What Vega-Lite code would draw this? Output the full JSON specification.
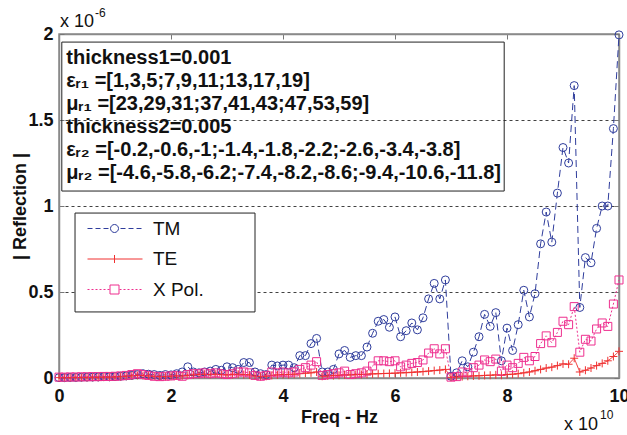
{
  "$schema": "https://vega.github.io/schema/vega-lite/v6.json",
  "width": 560,
  "height": 344,
  "autosize": {"type": "none"},
  "padding": {"left": 59, "top": 34, "right": 8, "bottom": 57},
  "background": "white",
  "config": {
    "view": {"stroke": "#8a8a8a", "strokeWidth": 1.5},
    "font": "Liberation Sans"
  },
  "datasets": {
    "d": [
      {"f":0,"TM":0.002,"TE":0.002,"XPol":0.005},
      {"f":0.1,"TM":0.002,"TE":0.002,"XPol":0.005},
      {"f":0.2,"TM":0.003,"TE":0.002,"XPol":0.006},
      {"f":0.3,"TM":0.003,"TE":0.003,"XPol":0.006},
      {"f":0.4,"TM":0.004,"TE":0.003,"XPol":0.007},
      {"f":0.5,"TM":0.005,"TE":0.003,"XPol":0.007},
      {"f":0.6,"TM":0.005,"TE":0.004,"XPol":0.008},
      {"f":0.7,"TM":0.006,"TE":0.004,"XPol":0.008},
      {"f":0.8,"TM":0.008,"TE":0.005,"XPol":0.009},
      {"f":0.9,"TM":0.007,"TE":0.005,"XPol":0.009},
      {"f":1.0,"TM":0.008,"TE":0.006,"XPol":0.01},
      {"f":1.1,"TM":0.01,"TE":0.008,"XPol":0.012},
      {"f":1.2,"TM":0.012,"TE":0.01,"XPol":0.015},
      {"f":1.3,"TM":0.015,"TE":0.012,"XPol":0.02},
      {"f":1.4,"TM":0.02,"TE":0.015,"XPol":0.025},
      {"f":1.5,"TM":0.025,"TE":0.014,"XPol":0.02},
      {"f":1.6,"TM":0.022,"TE":0.012,"XPol":0.015},
      {"f":1.7,"TM":0.02,"TE":0.01,"XPol":0.01},
      {"f":1.8,"TM":0.015,"TE":0.008,"XPol":0.008},
      {"f":1.9,"TM":0.02,"TE":0.008,"XPol":0.01},
      {"f":2.0,"TM":0.018,"TE":0.01,"XPol":0.012},
      {"f":2.1,"TM":0.025,"TE":0.012,"XPol":0.015},
      {"f":2.2,"TM":0.035,"TE":0.012,"XPol":0.01},
      {"f":2.3,"TM":0.065,"TE":0.015,"XPol":0.02},
      {"f":2.4,"TM":0.035,"TE":0.018,"XPol":0.025},
      {"f":2.5,"TM":0.03,"TE":0.02,"XPol":0.025},
      {"f":2.6,"TM":0.035,"TE":0.022,"XPol":0.03},
      {"f":2.7,"TM":0.04,"TE":0.02,"XPol":0.025},
      {"f":2.8,"TM":0.05,"TE":0.022,"XPol":0.03},
      {"f":2.9,"TM":0.045,"TE":0.02,"XPol":0.025},
      {"f":3.0,"TM":0.065,"TE":0.018,"XPol":0.02},
      {"f":3.1,"TM":0.06,"TE":0.02,"XPol":0.025},
      {"f":3.2,"TM":0.05,"TE":0.022,"XPol":0.035},
      {"f":3.3,"TM":0.09,"TE":0.02,"XPol":0.035},
      {"f":3.4,"TM":0.09,"TE":0.018,"XPol":0.03},
      {"f":3.5,"TM":0.035,"TE":0.012,"XPol":0.015},
      {"f":3.6,"TM":0.025,"TE":0.008,"XPol":0.01},
      {"f":3.7,"TM":0.02,"TE":0.01,"XPol":0.015},
      {"f":3.8,"TM":0.075,"TE":0.015,"XPol":0.035},
      {"f":3.9,"TM":0.07,"TE":0.018,"XPol":0.03},
      {"f":4.0,"TM":0.075,"TE":0.02,"XPol":0.035},
      {"f":4.1,"TM":0.075,"TE":0.02,"XPol":0.03},
      {"f":4.2,"TM":0.06,"TE":0.022,"XPol":0.035},
      {"f":4.3,"TM":0.13,"TE":0.025,"XPol":0.05},
      {"f":4.4,"TM":0.13,"TE":0.028,"XPol":0.06},
      {"f":4.5,"TM":0.2,"TE":0.03,"XPol":0.075},
      {"f":4.6,"TM":0.23,"TE":0.035,"XPol":0.095},
      {"f":4.7,"TM":0.035,"TE":0.01,"XPol":0.015},
      {"f":4.8,"TM":0.035,"TE":0.012,"XPol":0.02},
      {"f":4.9,"TM":0.05,"TE":0.014,"XPol":0.025},
      {"f":5.0,"TM":0.14,"TE":0.016,"XPol":0.03},
      {"f":5.1,"TM":0.16,"TE":0.018,"XPol":0.04},
      {"f":5.2,"TM":0.12,"TE":0.018,"XPol":0.02},
      {"f":5.3,"TM":0.13,"TE":0.02,"XPol":0.025},
      {"f":5.4,"TM":0.13,"TE":0.02,"XPol":0.03},
      {"f":5.5,"TM":0.18,"TE":0.022,"XPol":0.04},
      {"f":5.6,"TM":0.26,"TE":0.024,"XPol":0.07},
      {"f":5.7,"TM":0.33,"TE":0.025,"XPol":0.1},
      {"f":5.8,"TM":0.34,"TE":0.026,"XPol":0.1},
      {"f":5.9,"TM":0.295,"TE":0.027,"XPol":0.095},
      {"f":6.0,"TM":0.355,"TE":0.028,"XPol":0.1},
      {"f":6.1,"TM":0.24,"TE":0.03,"XPol":0.065},
      {"f":6.2,"TM":0.275,"TE":0.031,"XPol":0.075},
      {"f":6.3,"TM":0.32,"TE":0.033,"XPol":0.085},
      {"f":6.4,"TM":0.28,"TE":0.035,"XPol":0.09},
      {"f":6.5,"TM":0.35,"TE":0.037,"XPol":0.105},
      {"f":6.6,"TM":0.46,"TE":0.04,"XPol":0.145},
      {"f":6.7,"TM":0.55,"TE":0.043,"XPol":0.17},
      {"f":6.8,"TM":0.46,"TE":0.046,"XPol":0.14},
      {"f":6.9,"TM":0.57,"TE":0.05,"XPol":0.17},
      {"f":7.0,"TM":0.01,"TE":0.004,"XPol":0.005},
      {"f":7.1,"TM":0.03,"TE":0.006,"XPol":0.008},
      {"f":7.2,"TM":0.1,"TE":0.008,"XPol":0.035},
      {"f":7.3,"TM":0.065,"TE":0.01,"XPol":0.03},
      {"f":7.4,"TM":0.15,"TE":0.012,"XPol":0.06},
      {"f":7.5,"TM":0.24,"TE":0.013,"XPol":0.075},
      {"f":7.6,"TM":0.37,"TE":0.015,"XPol":0.105},
      {"f":7.7,"TM":0.3,"TE":0.016,"XPol":0.095},
      {"f":7.8,"TM":0.38,"TE":0.018,"XPol":0.11},
      {"f":7.9,"TM":0.1,"TE":0.016,"XPol":0.04},
      {"f":8.0,"TM":0.29,"TE":0.02,"XPol":0.075},
      {"f":8.1,"TM":0.16,"TE":0.022,"XPol":0.06},
      {"f":8.2,"TM":0.31,"TE":0.025,"XPol":0.085},
      {"f":8.3,"TM":0.51,"TE":0.03,"XPol":0.12},
      {"f":8.4,"TM":0.355,"TE":0.035,"XPol":0.1},
      {"f":8.5,"TM":0.49,"TE":0.042,"XPol":0.125},
      {"f":8.6,"TM":0.78,"TE":0.05,"XPol":0.2},
      {"f":8.7,"TM":0.965,"TE":0.058,"XPol":0.245},
      {"f":8.8,"TM":0.79,"TE":0.063,"XPol":0.205},
      {"f":8.9,"TM":1.075,"TE":0.072,"XPol":0.265},
      {"f":9.0,"TM":1.34,"TE":0.082,"XPol":0.33},
      {"f":9.1,"TM":1.25,"TE":0.08,"XPol":0.31},
      {"f":9.2,"TM":1.7,"TE":0.115,"XPol":0.415},
      {"f":9.3,"TM":0.41,"TE":0.035,"XPol":0.15},
      {"f":9.4,"TM":0.7,"TE":0.045,"XPol":0.225},
      {"f":9.5,"TM":0.67,"TE":0.058,"XPol":0.215},
      {"f":9.6,"TM":0.87,"TE":0.072,"XPol":0.285},
      {"f":9.7,"TM":1.0,"TE":0.085,"XPol":0.32},
      {"f":9.8,"TM":1.0,"TE":0.1,"XPol":0.3},
      {"f":9.9,"TM":1.45,"TE":0.125,"XPol":0.43},
      {"f":10,"TM":1.995,"TE":0.155,"XPol":0.57}
    ]
  },
  "data": {"name": "d"},
  "layer": [
    {
      "data": {"values": [{}]},
      "mark": {"type": "rect", "filled": false, "stroke": "#222", "strokeWidth": 1},
      "encoding": {
        "x": {"datum": 0.05, "type": "quantitative", "scale": {"domain": [0, 10], "nice": false}, "axis": null},
        "x2": {"datum": 7.95},
        "y": {"datum": 1.953, "type": "quantitative", "scale": {"domain": [0, 2], "nice": false}, "axis": null},
        "y2": {"datum": 1.087}
      }
    },
    {
      "data": {"values": [{}]},
      "mark": {"type": "rect", "fill": "white", "stroke": "#222", "strokeWidth": 1},
      "encoding": {
        "x": {"datum": 0.286, "type": "quantitative", "axis": null},
        "x2": {"datum": 3.5},
        "y": {"datum": 0.959, "type": "quantitative", "axis": null},
        "y2": {"datum": 0.384}
      }
    },
    {
      "transform": [{"fold": ["TM", "TE", "XPol"], "as": ["s", "v"]}],
      "mark": {"type": "line", "strokeWidth": 1, "clip": false},
      "encoding": {
        "x": {
          "field": "f", "type": "quantitative",
          "scale": {"domain": [0, 10], "nice": false},
          "axis": {
            "orient": "bottom", "values": [0, 2, 4, 6, 8, 10], "title": "Freq - Hz",
            "titleFont": "Liberation Sans", "titleFontSize": 18, "titleFontWeight": "bold", "titleColor": "#111", "titlePadding": 3,
            "labelFont": "Liberation Sans", "labelFontSize": 18, "labelFontWeight": "bold", "labelColor": "#111",
            "labelPadding": 14, "labelFlush": false, "labelOverlap": false,
            "tickSize": -5, "tickColor": "#777", "tickWidth": 1,
            "domainColor": "#8a8a8a", "domainWidth": 1.5, "grid": false
          }
        },
        "y": {
          "field": "v", "type": "quantitative",
          "scale": {"domain": [0, 2], "nice": false},
          "axis": {
            "orient": "left", "values": [0, 0.5, 1, 1.5, 2], "format": "~g", "title": "| Reflection |",
            "titleFont": "Liberation Sans", "titleFontSize": 18, "titleFontWeight": "bold", "titleColor": "#111", "titlePadding": -2,
            "labelFont": "Liberation Sans", "labelFontSize": 18, "labelFontWeight": "bold", "labelColor": "#111",
            "labelPadding": 11, "labelFlush": false, "labelOverlap": false,
            "tickSize": -5, "tickColor": "#777", "tickWidth": 1,
            "domainColor": "#8a8a8a", "domainWidth": 1.5,
            "grid": true, "gridDash": [3, 3], "gridWidth": 0.8,
            "gridColor": {"condition": {"test": "datum.value == 0 || datum.value == 2", "value": "transparent"}, "value": "#111"}
          }
        },
        "color": {
          "field": "s", "type": "nominal",
          "scale": {"domain": ["TM", "TE", "XPol"], "range": ["#2f3d9c", "#f03030", "#ee2f8f"]},
          "legend": {
            "orient": "none", "legendX": 16, "legendY": 179, "title": null,
            "padding": 6, "strokeColor": "transparent", "fillColor": "transparent",
            "labelFont": "Liberation Sans", "labelFontSize": 19, "labelColor": "#111",
            "labelOffset": 53, "rowPadding": 10.5, "symbolSize": 256, "symbolStrokeWidth": 1,
            "labelExpr": "datum.label == 'XPol' ? 'X Pol.' : datum.label",
            "encode": {
              "symbols": {
                "update": {
                  "shape": {"signal": "datum.value == 'TM' ? 'M-0.375,0H0.25M0.625,0H1.25M1.625,0H2.25M3.75,0H4.375M4.75,0H5.375M5.75,0H6.375M2.5,0A0.5,0.5,0,1,0,3.5,0A0.5,0.5,0,1,0,2.5,0' : datum.value == 'TE' ? 'M-0.375,0H6.5M3,-0.5V0.5' : 'M-0.375,0H-0.125M0.125,0H0.375M0.625,0H0.875M1.125,0H1.375M1.625,0H1.875M2.125,0H2.375M3.625,0H3.875M4.125,0H4.375M4.625,0H4.875M5.125,0H5.375M5.625,0H5.875M6.125,0H6.375M2.4375,-0.5625H3.5625V0.5625H2.4375Z'"},
                  "stroke": {"scale": "color", "field": "value"},
                  "fill": {"value": "transparent"},
                  "strokeWidth": {"value": 1},
                  "strokeDash": {"value": []},
                  "opacity": {"value": 1},
                  "size": {"value": 256}
                }
              }
            }
          }
        },
        "strokeDash": {
          "condition": [
            {"test": "datum.s == 'TM'", "value": [7, 4]},
            {"test": "datum.s == 'TE'", "value": [1, 0]}
          ],
          "value": [2, 2]
        }
      }
    },
    {
      "transform": [{"fold": ["TM", "TE", "XPol"], "as": ["s", "v"]}],
      "mark": {"type": "point", "filled": false, "strokeWidth": 1, "size": 64, "opacity": 1, "clip": false},
      "encoding": {
        "x": {
          "field": "f", "type": "quantitative",
          "scale": {"domain": [0, 10], "nice": false},
          "axis": {"orient": "top", "values": [0, 2, 4, 6, 8, 10], "labels": false, "title": null, "tickSize": -5, "tickColor": "#777", "tickWidth": 1, "domainColor": "#8a8a8a", "domainWidth": 1.5, "grid": false}
        },
        "y": {
          "field": "v", "type": "quantitative",
          "scale": {"domain": [0, 2], "nice": false},
          "axis": {"orient": "right", "values": [0, 0.5, 1, 1.5, 2], "labels": false, "title": null, "tickSize": -5, "tickColor": "#777", "tickWidth": 1, "domainColor": "#8a8a8a", "domainWidth": 1.5, "grid": false}
        },
        "color": {
          "field": "s", "type": "nominal",
          "scale": {"domain": ["TM", "TE", "XPol"], "range": ["#2f3d9c", "#f03030", "#ee2f8f"]},
          "legend": {
            "orient": "none", "legendX": 16, "legendY": 179, "title": null,
            "padding": 6, "strokeColor": "transparent", "fillColor": "transparent",
            "labelFont": "Liberation Sans", "labelFontSize": 19, "labelColor": "#111",
            "labelOffset": 53, "rowPadding": 10.5, "symbolSize": 256, "symbolStrokeWidth": 1,
            "labelExpr": "datum.label == 'XPol' ? 'X Pol.' : datum.label",
            "encode": {
              "symbols": {
                "update": {
                  "shape": {"signal": "datum.value == 'TM' ? 'M-0.375,0H0.25M0.625,0H1.25M1.625,0H2.25M3.75,0H4.375M4.75,0H5.375M5.75,0H6.375M2.5,0A0.5,0.5,0,1,0,3.5,0A0.5,0.5,0,1,0,2.5,0' : datum.value == 'TE' ? 'M-0.375,0H6.5M3,-0.5V0.5' : 'M-0.375,0H-0.125M0.125,0H0.375M0.625,0H0.875M1.125,0H1.375M1.625,0H1.875M2.125,0H2.375M3.625,0H3.875M4.125,0H4.375M4.625,0H4.875M5.125,0H5.375M5.625,0H5.875M6.125,0H6.375M2.4375,-0.5625H3.5625V0.5625H2.4375Z'"},
                  "stroke": {"scale": "color", "field": "value"},
                  "fill": {"value": "transparent"},
                  "strokeWidth": {"value": 1},
                  "strokeDash": {"value": []},
                  "opacity": {"value": 1},
                  "size": {"value": 256}
                }
              }
            }
          }
        },
        "shape": {
          "condition": [
            {"test": "datum.s == 'TM'", "value": "circle"},
            {"test": "datum.s == 'TE'", "value": "M-1,0H1M0,-1V1"}
          ],
          "value": "square"
        }
      }
    },
    {
      "data": {"values": [{}]},
      "mark": {
        "type": "text", "align": "left", "baseline": "top",
        "font": "Liberation Sans", "fontWeight": "bold", "fontSize": 20, "lineHeight": 23, "color": "#111",
        "text": [
          "thickness1=0.001",
          "εᵣ₁  =[1,3,5;7,9,11;13,17,19]",
          "μᵣ₁  =[23,29,31;37,41,43;47,53,59]",
          "thickness2=0.005",
          "εᵣ₂  =[-0.2,-0.6,-1;-1.4,-1.8,-2.2;-2.6,-3.4,-3.8]",
          " μᵣ₂  =[-4.6,-5.8,-6.2;-7.4,-8.2,-8.6;-9.4,-10.6,-11.8]"
        ]
      },
      "encoding": {
        "x": {"datum": 0.13, "type": "quantitative", "axis": null},
        "y": {"datum": 1.92, "type": "quantitative", "axis": null}
      }
    },
    {
      "data": {"values": [{}]},
      "mark": {"type": "text", "align": "left", "baseline": "alphabetic", "font": "Liberation Sans", "fontSize": 18, "color": "#111", "text": "x 10", "dx": 1, "dy": -7},
      "encoding": {
        "x": {"datum": 0, "type": "quantitative", "axis": null},
        "y": {"datum": 2, "type": "quantitative", "axis": null}
      }
    },
    {
      "data": {"values": [{}]},
      "mark": {"type": "text", "align": "left", "baseline": "alphabetic", "font": "Liberation Sans", "fontSize": 12, "color": "#111", "text": "-6", "dx": 36, "dy": -17},
      "encoding": {
        "x": {"datum": 0, "type": "quantitative", "axis": null},
        "y": {"datum": 2, "type": "quantitative", "axis": null}
      }
    },
    {
      "data": {"values": [{}]},
      "mark": {"type": "text", "align": "left", "baseline": "alphabetic", "font": "Liberation Sans", "fontSize": 18, "color": "#111", "text": "x 10", "dx": -55, "dy": 52},
      "encoding": {
        "x": {"datum": 10, "type": "quantitative", "axis": null},
        "y": {"datum": 0, "type": "quantitative", "axis": null}
      }
    },
    {
      "data": {"values": [{}]},
      "mark": {"type": "text", "align": "left", "baseline": "alphabetic", "font": "Liberation Sans", "fontSize": 12, "color": "#111", "text": "10", "dx": -19, "dy": 41},
      "encoding": {
        "x": {"datum": 10, "type": "quantitative", "axis": null},
        "y": {"datum": 0, "type": "quantitative", "axis": null}
      }
    }
  ],
  "resolve": {"axis": {"x": "independent", "y": "independent"}}
}
